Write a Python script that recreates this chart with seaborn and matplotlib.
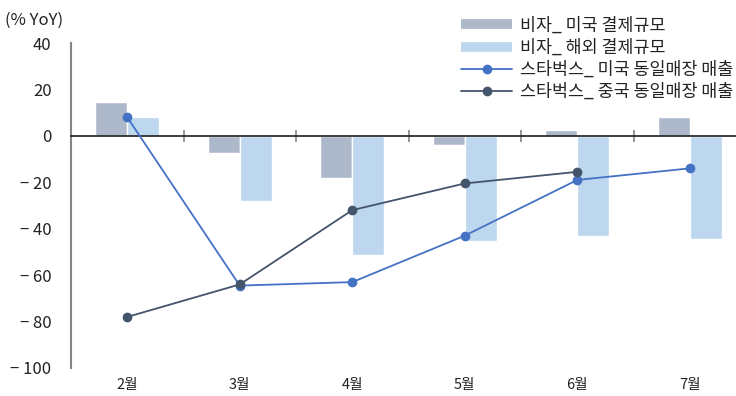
import numpy as np
import pandas as pd
import matplotlib
matplotlib.use("Agg")
import matplotlib.pyplot as plt
from matplotlib.lines import Line2D
from matplotlib.ticker import FuncFormatter
import seaborn as sns

months = ["2월", "3월", "4월", "5월", "6월", "7월"]
visa_us = [14.5, -7.2, -18.0, -3.8, 2.6, 8.0]
visa_intl = [8.0, -28.0, -51.3, -45.5, -43.0, -44.5]
sbux_us = [8.0, -64.5, -63.0, -43.0, -19.0, -14.0]
sbux_cn = [-78.0, -64.0, -32.0, -20.5, -15.5, np.nan]

bar_names = ["비자_ 미국 결제규모", "비자_ 해외 결제규모"]
line_names = ["스타벅스_ 미국 동일매장 매출", "스타벅스_ 중국 동일매장 매출"]

bar_colors = ["#ADB9CA", "#BDD7EE"]
line_colors = ["#4472C4", "#44546A"]
axis_grey = "#868686"
text_col = "#222222"

sns.set_theme(style="white")
plt.rcParams["font.family"] = ["Noto Sans CJK KR", "DejaVu Sans"]

bars = pd.DataFrame({
    "month": months * 2,
    "value": visa_us + visa_intl,
    "series": [bar_names[0]] * 6 + [bar_names[1]] * 6,
})

fig = plt.figure(figsize=(7.36, 3.96), dpi=100)
W, H = 736, 396
ax = fig.add_axes([71 / W, 1 - 368 / H, 675 / W, (368 - 43) / H])

sns.barplot(data=bars, x="month", y="value", hue="series", order=months,
            palette=bar_colors, width=0.57, gap=0, saturation=1,
            legend=False, ax=ax, zorder=2)

x = np.arange(len(months))
for vals, name, col in zip([sbux_us, sbux_cn], line_names, line_colors):
    sns.lineplot(x=x, y=vals, color=col, lw=1.3, marker="o", markersize=7,
                 markeredgewidth=0, ax=ax, zorder=4)

ax.set_xlim(-0.5, 5.5)
ax.set_ylim(-100, 40)
ax.set_yticks(range(-100, 41, 20))
ax.yaxis.set_major_formatter(FuncFormatter(
    lambda v, p: f"\u2212 {abs(int(v))}" if v < 0 else f"{int(v)}"))
ax.set_xlabel("")
ax.set_ylabel("")

for s in ["top", "right", "bottom"]:
    ax.spines[s].set_visible(False)
ax.spines["left"].set_color(axis_grey)
ax.spines["left"].set_linewidth(1.5)
ax.tick_params(axis="y", direction="in", length=3, color=axis_grey, width=1.2,
               labelsize=12, pad=14, labelcolor=text_col)
ax.tick_params(axis="x", length=0, labelsize=10.5, pad=7, labelcolor=text_col)

# zero line with category boundary ticks
zero = ax.secondary_xaxis(100 / 140)
zero.spines["bottom"].set_color(axis_grey)
zero.spines["bottom"].set_linewidth(1.5)
zero.set_xticks(np.arange(0.5, 5.5, 1))
zero.set_xticklabels([])
zero.tick_params(direction="inout", length=8, color=axis_grey, width=1.2)
zero.set_zorder(3)

handles = [Line2D([], [], color=c, lw=7, solid_capstyle="butt")
           for c in bar_colors] + \
          [Line2D([], [], color=c, lw=1.3, marker="o", markersize=7,
                  markeredgewidth=0) for c in line_colors]
fig.legend(handles, bar_names + line_names, loc="upper right",
           bbox_to_anchor=(1.017, 0.998), frameon=False, fontsize=12.5,
           handlelength=2.9, handletextpad=0.45, labelspacing=0.24,
           labelcolor=text_col)

fig.text(5 / W, 1 - 20 / H, "(% YoY)", fontsize=12, va="center",
         color=text_col)

fig.savefig("out.png", dpi=100)
